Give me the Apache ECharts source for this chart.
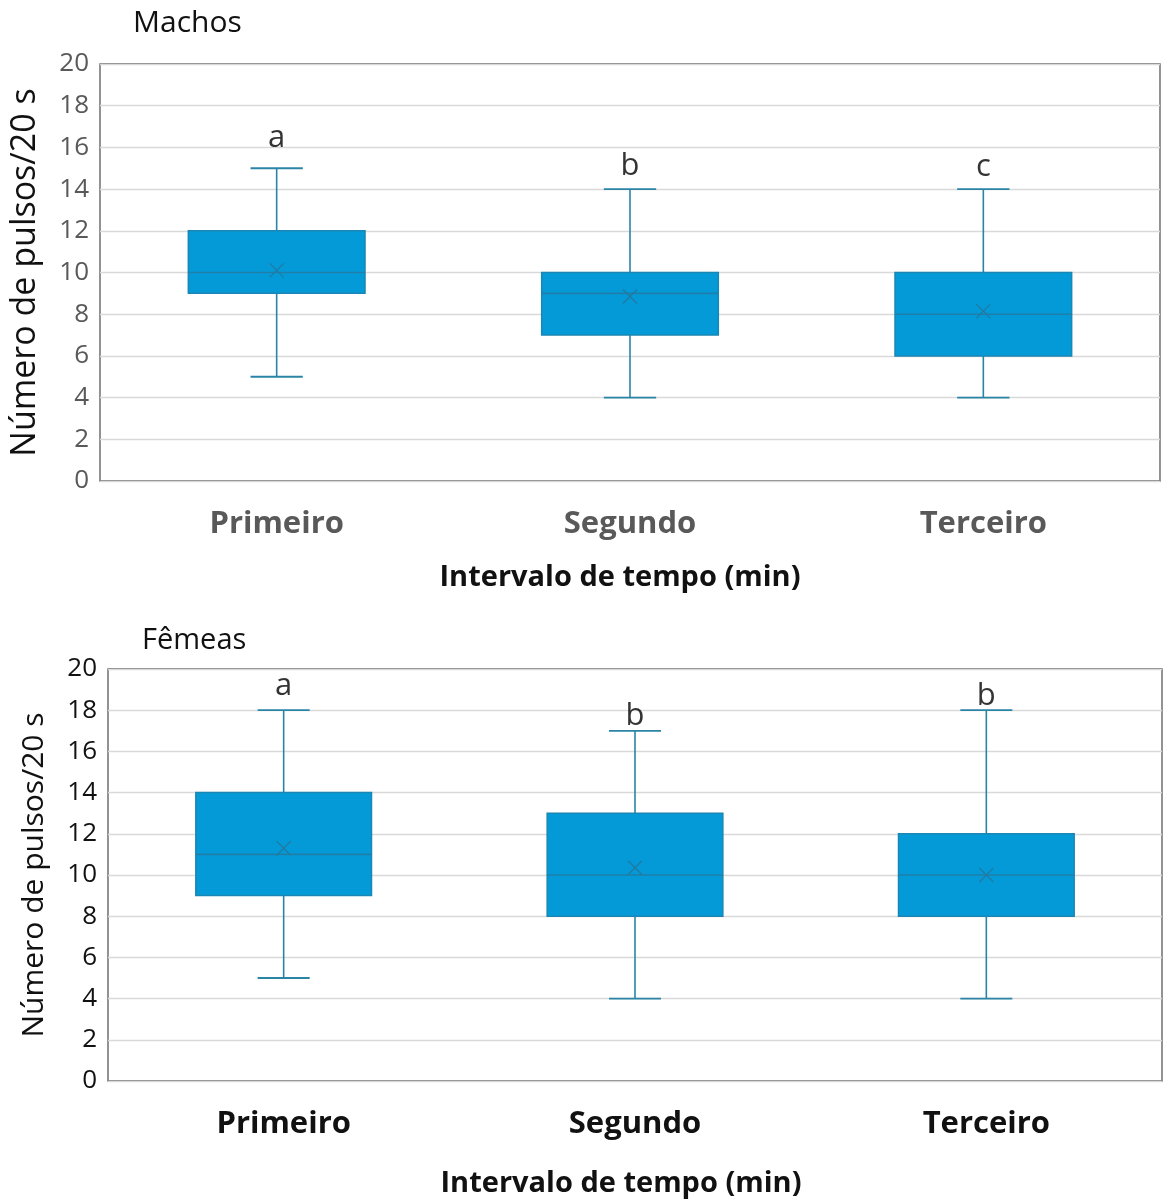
<!DOCTYPE html>
<html>
<head>
<meta charset="utf-8">
<script src="https://cdn.jsdelivr.net/npm/echarts@6/dist/echarts.min.js"></script>
<style>
  html, body { margin: 0; padding: 0; background: #fff; }
  #chart { width: 1165px; height: 1200px; }
</style>
</head>
<body>
<div id="chart"></div>
<script>
// Time intervals on the x axis
const categories = ['Primeiro', 'Segundo', 'Terceiro'];

// Pulses per 20 s, males: [min, Q1, median, Q3, max]
const machosBox = [
  [5, 9, 10, 12, 15],
  [4, 7, 9, 10, 14],
  [4, 6, 8, 10, 14]
];
const machosMean = [10.1, 8.85, 8.15];
const machosLetters = ['a', 'b', 'c'];
const machosLetterY = [16.45, 15.1, 15.05];

// Pulses per 20 s, females: [min, Q1, median, Q3, max]
const femeasBox = [
  [5, 9, 11, 14, 18],
  [4, 8, 10, 13, 17],
  [4, 8, 10, 12, 18]
];
const femeasMean = [11.3, 10.35, 10.0];
const femeasLetters = ['a', 'b', 'b'];
const femeasLetterY = [19.15, 17.7, 18.7];

const yTicks = { min: 0, max: 20, interval: 2 };

const FONT = '"Open Sans", "Noto Sans", sans-serif';
const BOX_FILL = '#049ad8';
const BOX_EDGE = '#1a86b3';
const WHISKER = '#2a84a6';

function boxRows(box, mean) {
  return box.map((b, i) => [i, b[0], b[1], b[2], b[3], b[4], mean[i]]);
}

// Box, whiskers with short caps, median line and an "x" at the mean
function renderBox(params, api) {
  const i = api.value(0);
  const band = api.size([1, 0])[0];
  const halfBox = band * 0.25;
  const halfCap = band * 0.074;
  const pMin = api.coord([i, api.value(1)]);
  const pQ1 = api.coord([i, api.value(2)]);
  const pMed = api.coord([i, api.value(3)]);
  const pQ3 = api.coord([i, api.value(4)]);
  const pMax = api.coord([i, api.value(5)]);
  const pMean = api.coord([i, api.value(6)]);
  const cx = pMed[0];
  const ln = (x1, y1, x2, y2, color, w) => ({
    type: 'line',
    shape: { x1, y1, x2, y2 },
    style: { stroke: color, lineWidth: w }
  });
  const m = 7;
  return {
    type: 'group',
    children: [
      ln(cx, pMax[1], cx, pQ3[1], WHISKER, 1.6),
      ln(cx, pQ1[1], cx, pMin[1], WHISKER, 1.6),
      ln(cx - halfCap, pMax[1], cx + halfCap, pMax[1], WHISKER, 1.8),
      ln(cx - halfCap, pMin[1], cx + halfCap, pMin[1], WHISKER, 1.8),
      {
        type: 'rect',
        shape: { x: cx - halfBox, y: pQ3[1], width: halfBox * 2, height: pQ1[1] - pQ3[1] },
        style: { fill: BOX_FILL, stroke: BOX_EDGE, lineWidth: 1.5 }
      },
      ln(cx - halfBox, pMed[1], cx + halfBox, pMed[1], '#1f7fa8', 1.6),
      ln(pMean[0] - m, pMean[1] - m, pMean[0] + m, pMean[1] + m, '#2379a0', 1.2),
      ln(pMean[0] - m, pMean[1] + m, pMean[0] + m, pMean[1] - m, '#2379a0', 1.2)
    ]
  };
}

function letterRows(letters, ys) {
  return letters.map((t, i) => ({ value: [i, ys[i]], name: t }));
}

function yAxisFor(gridIndex, color, nameSize, nameGap) {
  return {
    gridIndex,
    type: 'value',
    min: yTicks.min,
    max: yTicks.max,
    interval: yTicks.interval,
    name: 'Número de pulsos/20 s',
    nameLocation: 'middle',
    nameRotate: 90,
    nameGap,
    nameTextStyle: { fontFamily: FONT, fontSize: nameSize, color: '#111' },
    axisLine: { show: false },
    axisTick: { show: false },
    axisLabel: { fontFamily: FONT, fontSize: 26, color, margin: 11 },
    splitLine: { lineStyle: { color: '#d9d9d9', width: 1.3 } }
  };
}

function xAxisFor(gridIndex, color, labelSize, labelMargin, nameGap, namePadRight) {
  return {
    gridIndex,
    type: 'category',
    data: categories,
    name: 'Intervalo de tempo (min)',
    nameLocation: 'middle',
    nameGap,
    nameTextStyle: {
      fontFamily: FONT, fontSize: 29, fontWeight: 'bold', color: '#111',
      padding: [0, namePadRight, 0, 0]
    },
    axisLine: { show: false },
    axisTick: { show: false },
    axisLabel: { fontFamily: FONT, fontSize: labelSize, fontWeight: 'bold', color, margin: labelMargin },
    splitLine: { show: false }
  };
}

function letterSeries(axisIndex, letters, ys) {
  return {
    type: 'scatter',
    xAxisIndex: axisIndex, yAxisIndex: axisIndex,
    symbol: 'circle',
    symbolSize: 1,
    itemStyle: { color: 'rgba(0,0,0,0)' },
    label: { show: true, position: 'inside', formatter: p => p.name, fontFamily: FONT, fontSize: 31, color: '#000' },
    data: letterRows(letters, ys)
  };
}

const chart = echarts.init(document.getElementById('chart'), null, { renderer: 'canvas' });

chart.setOption({
  backgroundColor: '#ffffff',
  animation: false,
  title: [
    { text: 'Machos', left: 133, top: 8, padding: 0, textStyle: { fontFamily: FONT, fontSize: 30, fontWeight: 'normal', color: '#111' } },
    { text: 'Fêmeas', left: 142, top: 626, padding: 0, textStyle: { fontFamily: FONT, fontSize: 29, fontWeight: 'normal', color: '#111' } }
  ],
  grid: [
    { left: 98, right: 5, top: 64, height: 417, show: true, borderColor: '#595959', borderWidth: 1.3, backgroundColor: 'transparent' },
    { left: 108, right: 3, top: 669, height: 412, show: true, borderColor: '#595959', borderWidth: 1.3, backgroundColor: 'transparent' }
  ],
  xAxis: [
    xAxisFor(0, '#595959', 31, 28, 82, 20),
    xAxisFor(1, '#111111', 31, 28, 88, 28)
  ],
  yAxis: [
    yAxisFor(0, '#595959', 34, 58),
    yAxisFor(1, '#111111', 30, 59)
  ],
  series: [
    {
      type: 'custom',
      xAxisIndex: 0, yAxisIndex: 0,
      renderItem: renderBox,
      encode: { x: 0, y: [1, 2, 3, 4, 5, 6] },
      data: boxRows(machosBox, machosMean)
    },
    {
      type: 'custom',
      xAxisIndex: 1, yAxisIndex: 1,
      renderItem: renderBox,
      encode: { x: 0, y: [1, 2, 3, 4, 5, 6] },
      data: boxRows(femeasBox, femeasMean)
    },
    letterSeries(0, machosLetters, machosLetterY),
    letterSeries(1, femeasLetters, femeasLetterY)
  ]
});
</script>
</body>
</html>
